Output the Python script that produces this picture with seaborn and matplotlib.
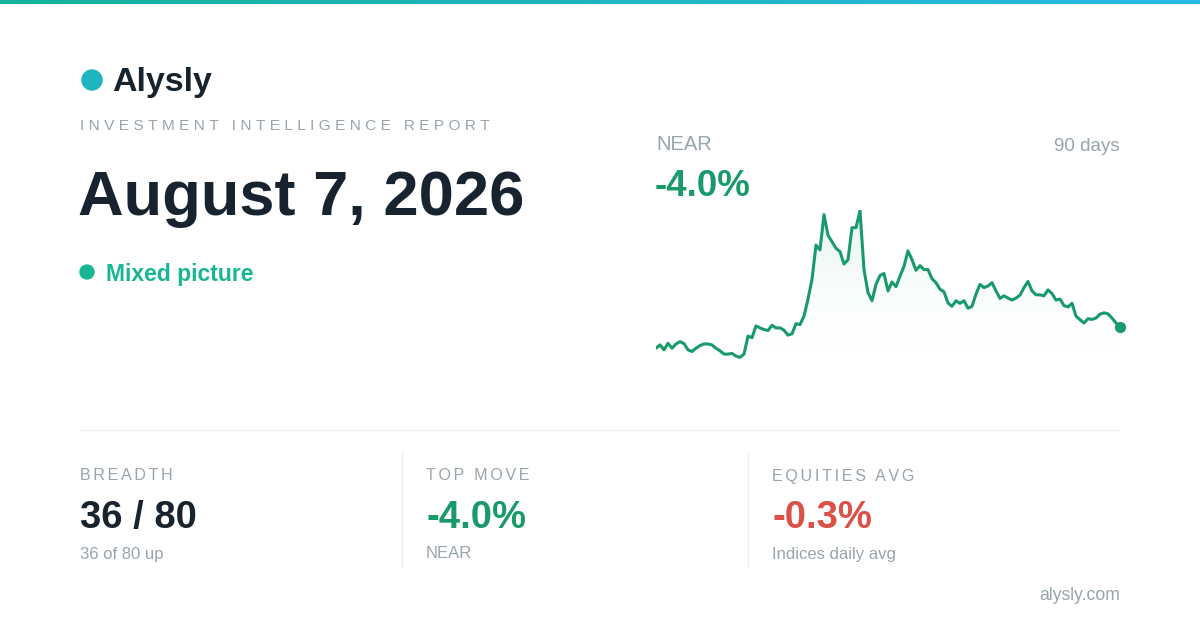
import numpy as np
import matplotlib
matplotlib.use("Agg")
import matplotlib.pyplot as plt
import seaborn as sns
from matplotlib.patches import Circle, Polygon

# price series (90 days)
prices = [50, 60, 45, 65, 50, 63, 70, 64, 45, 40, 50, 58, 63, 63, 60, 50, 42, 32, 32, 34,
          26, 22, 32, 87, 82, 118, 112, 107, 104, 120, 112, 112, 105, 90, 94, 125, 122, 148,
          200, 260, 365, 350, 458, 395, 375, 355, 345, 307, 320, 418, 418, 470, 290, 220,
          195, 245, 272, 278, 225, 252, 238, 270, 300, 347, 320, 288, 302, 290, 290, 262,
          250, 230, 222, 188, 178, 195, 187, 195, 172, 178, 215, 245, 235, 240, 250, 225,
          202, 210, 203, 197, 203, 212, 235, 254, 225, 213, 213, 210, 228, 217, 197, 200,
          180, 176, 187, 148, 137, 127, 140, 138, 142, 154, 158, 155, 142, 127, 116]
days = np.arange(len(prices))

ticker = "NEAR"
change = "-4.0%"
stat_titles = ["BREADTH", "TOP MOVE", "EQUITIES AVG"]
stat_values = ["36 / 80", "-4.0%", "-0.3%"]
stat_notes = ["36 of 80 up", "NEAR", "Indices daily avg"]
stat_colors = ["#17242f", "#189a6a", "#dd5047"]

sns.set_theme(style="white")
plt.rcParams["font.family"] = ["Liberation Sans", "DejaVu Sans"]

fig = plt.figure(figsize=(12, 6.3), dpi=100)
fig.patch.set_facecolor("white")

W, H = 1200, 630
def fx(x): return x / W
def fy(y): return 1 - y / H

def spaced(s, gap="\u200a"):
    return gap.join(s).replace(gap + " " + gap, gap * 2 + " ")

# top gradient bar
bar = fig.add_axes([0, fy(4), 1, 4 / H])
bar.imshow(np.linspace(0, 1, 256)[None, :], aspect="auto",
           cmap=matplotlib.colors.LinearSegmentedColormap.from_list("g", ["#14b39a", "#2bb8e8"]))
bar.axis("off")

# logo
fig.patches.append(Circle((92 / 100, (630 - 80) / 100), 0.10, transform=fig.dpi_scale_trans,
                          color="#1cb5c0"))
fig.text(fx(112), fy(82), "Alysly", fontsize=24.5, fontweight="bold", color="#17242f", va="center")
fig.text(fx(80), fy(126), spaced("INVESTMENT INTELLIGENCE REPORT", "\u2009\u200a"),
         fontsize=11.1, color="#98a4ab", va="center")
fig.text(fx(78), fy(198), "August 7, 2026", fontsize=45.5, fontweight="bold", color="#17242f", va="center")
fig.patches.append(Circle((87 / 100, (630 - 272) / 100), 0.07, transform=fig.dpi_scale_trans,
                          color="#18b694"))
fig.text(fx(106), fy(274), "Mixed picture", fontsize=16.5, fontweight="bold", color="#18b694", va="center")

fig.text(fx(656), fy(145), ticker, fontsize=14.5, color="#98a4ab", va="center")
fig.text(fx(1120), fy(146), "90 days", fontsize=13.5, color="#98a4ab", va="center", ha="right")
fig.text(fx(655), fy(186), change, fontsize=26.5, fontweight="bold", color="#189a6a", va="center")

# sparkline
ax = fig.add_axes([fx(656), fy(360), (1120 - 656) / W, 150 / H])
sns.lineplot(x=days, y=prices, ax=ax, color="#189a6a", linewidth=2.2)
ymin = min(prices) - 8
ax.set_ylim(ymin, max(prices) + 2)
ax.set_xlim(days[0], days[-1])
grad = ax.imshow(np.linspace(1, 0, 256)[:, None], aspect="auto",
                 extent=[days[0], days[-1], ymin, max(prices)],
                 cmap=matplotlib.colors.LinearSegmentedColormap.from_list(
                     "f", [(1, 1, 1, 0), (0.09, 0.6, 0.42, 0.12)]), zorder=1)
poly = Polygon(np.column_stack([np.r_[days, days[-1], days[0]], np.r_[prices, ymin, ymin]]),
               transform=ax.transData, facecolor="none", edgecolor="none")
ax.add_patch(poly)
grad.set_clip_path(poly)
ax.scatter([days[-1]], [prices[-1]], s=50, color="#189a6a", zorder=5, clip_on=False)
ax.axis("off")

# dividers
fig.add_artist(plt.Line2D([fx(80), fx(1120)], [fy(430), fy(430)], color="#eceff1", lw=1))
for x in (402, 748):
    fig.add_artist(plt.Line2D([fx(x), fx(x)], [fy(452), fy(566)], color="#eceff1", lw=1))

for i, x in enumerate((80, 426, 772)):
    fig.text(fx(x), fy(476), spaced(stat_titles[i], "\u200a\u200a"), fontsize=11.5, color="#98a4ab", va="center")
    fig.text(fx(x), fy(518), stat_values[i], fontsize=27.5, fontweight="bold", color=stat_colors[i], va="center")
    fig.text(fx(x), fy(554), stat_notes[i], fontsize=12, color="#98a4ab", va="center")

fig.text(fx(1120), fy(596), "alysly.com", fontsize=12.7, color="#98a4ab", va="center", ha="right")

fig.savefig("out.png", dpi=100, facecolor="white")
